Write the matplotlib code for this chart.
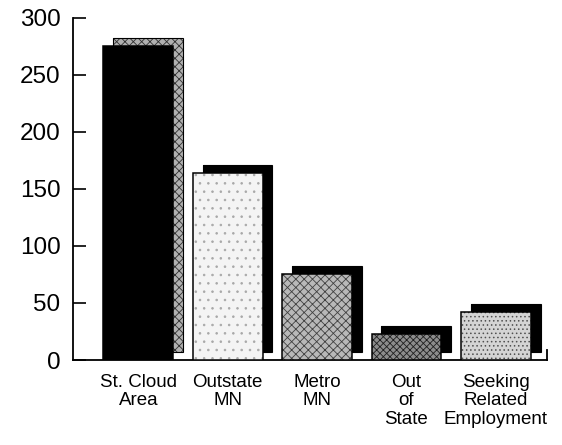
import matplotlib
matplotlib.use("Agg")
import matplotlib.pyplot as plt

plt.rcParams['font.family'] = ['Liberation Sans', 'DejaVu Sans']
plt.rcParams['hatch.linewidth'] = 0.6

# data
categories = ['St. Cloud\nArea', 'Outstate\nMN', 'Metro\nMN', 'Out\nof\nState',
              'Seeking\nRelated\nEmployment']
values = [275, 164, 75, 23, 42]
yticks = [0, 50, 100, 150, 200, 250, 300]

# look of each bar: (front face, front hatch, hatch colour,
#                    shadow face, shadow hatch, shadow hatch colour)
styles = [
    ('black', None, 'black', '#b0b0b0', 'xxxx', '#303030'),
    ('#f4f4f4', '..', '#a8a8a8', 'black', None, 'black'),
    ('#b8b8b8', 'xxxx', '#404040', 'black', None, 'black'),
    ('#8c8c8c', 'xxxxx', '#202020', 'black', None, 'black'),
    ('#d4d4d4', '....', '#505050', 'black', None, 'black'),
]

width = 0.78
dx = 0.11      # shadow shift to the right
lift = 7       # shadow shift upwards (data units)

fig = plt.figure(figsize=(5.62, 4.45), dpi=100)
ax = fig.add_axes([0.130, 0.191, 0.843, 0.769])

x = list(range(len(categories)))
for i, v in enumerate(values):
    face, hatch, hcol, sface, shatch, shcol = styles[i]
    # shadow block, hatch first then outline
    ax.bar(x[i] + dx, v, width=width, bottom=lift, color=sface,
           edgecolor=shcol, hatch=shatch, linewidth=0, zorder=2)
    ax.bar(x[i] + dx, v, width=width, bottom=lift, fill=False,
           edgecolor='black', linewidth=0.8, zorder=2)
    # front face
    ax.bar(x[i], v, width=width, color=face, edgecolor=hcol,
           hatch=hatch, linewidth=0, zorder=3)
    ax.bar(x[i], v, width=width, fill=False, edgecolor='black',
           linewidth=1.1, zorder=3)

ax.set_xlim(-0.73, 4.57)
ax.set_ylim(0, 300)
ax.set_yticks(yticks)
ax.set_xticks(x)
ax.set_xticklabels(categories, fontsize=13.5, linespacing=1.12)
ax.tick_params(axis='x', length=0, pad=10)
ax.tick_params(axis='y', direction='in', length=9, width=1.2,
               labelsize=17.5, pad=9)

ax.spines['top'].set_visible(False)
ax.spines['right'].set_bounds(0, 9)
for s in ['left', 'bottom', 'right']:
    ax.spines[s].set_linewidth(1.3)

fig.savefig('out.png', dpi=100)
